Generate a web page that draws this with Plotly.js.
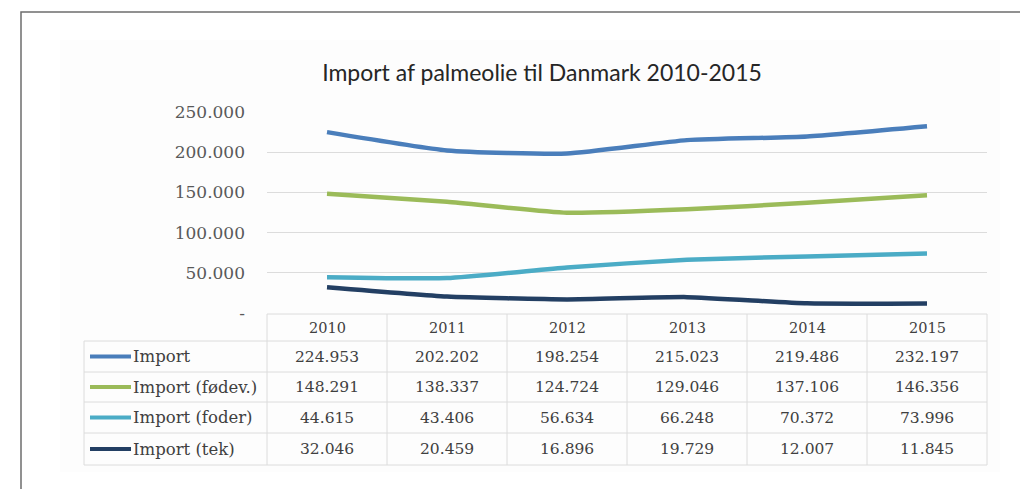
<!DOCTYPE html>
<html>
<head>
<meta charset="utf-8">
<script src="https://cdn.plot.ly/plotly-3.0.1.min.js"></script>
<style>
  html, body { margin: 0; padding: 0; background: #ffffff; }
  #chart { width: 1020px; height: 489px; }
</style>
</head>
<body>
<div id="chart"></div>
<script>
// ---- Data ----
const years = ['2010', '2011', '2012', '2013', '2014', '2015'];
const seriesNames = ['Import', 'Import (fødev.)', 'Import (foder)', 'Import (tek)'];
const importTotal = [224953, 202202, 198254, 215023, 219486, 232197];
const importFoedev = [148291, 138337, 124724, 129046, 137106, 146356];
const importFoder = [44615, 43406, 56634, 66248, 70372, 73996];
const importTek = [32046, 20459, 16896, 19729, 12007, 11845];
const tickValues = [0, 50000, 100000, 150000, 200000, 250000];
const tickLabels = ['-', '50.000', '100.000', '150.000', '200.000', '250.000'];

const seriesValues = [importTotal, importFoedev, importFoder, importTek];
const seriesColors = ['#4a7ebb', '#9bbb59', '#4bacc6', '#233f63'];

// ---- Geometry (pixels) ----
const W = 1020, H = 489;
const L = 267, R = 987, T = 112, B = 313;
const px = p => (p - L) / (R - L);
const py = p => (B - p) / (B - T);

function fmt(n) {
  const th = Math.floor(n / 1000);
  const rest = String(n % 1000).padStart(3, '0');
  return th > 0 ? th + '.' + rest : String(n);
}

const traces = seriesValues.map((vals, i) => ({
  type: 'scatter',
  mode: 'lines',
  x: years,
  y: vals,
  name: seriesNames[i],
  line: { color: seriesColors[i], width: 4.5, shape: 'spline', smoothing: 0.5 },
  hoverinfo: 'skip'
}));

const gridColor = '#dcdcdc';
const shapes = [];
const annotations = [];

// very faint chart-area background
shapes.push({ type: 'rect', xref: 'paper', yref: 'paper', layer: 'below',
  x0: px(60), x1: px(1000), y0: py(40), y1: py(472),
  fillcolor: '#fdfdfd', line: { width: 0 } });
// outer border
shapes.push({ type: 'path', xref: 'paper', yref: 'paper',
  path: `M ${px(21)} ${py(500)} L ${px(21)} ${py(12)} L ${px(1030)} ${py(12)}`,
  line: { color: '#6e6e6e', width: 1.5 } });

// table geometry
const colW = 120;
const rowTop = 314;
const headerBottom = 341;
const rowLines = [341, 372, 402, 433, 465];
const tableLeft = 84;
shapes.push({ type: 'line', xref: 'paper', yref: 'paper',
  x0: px(L), x1: px(R), y0: py(rowTop), y1: py(rowTop), line: { color: gridColor, width: 1 } });
rowLines.forEach(yy => shapes.push({ type: 'line', xref: 'paper', yref: 'paper',
  x0: px(tableLeft), x1: px(R), y0: py(yy), y1: py(yy), line: { color: gridColor, width: 1 } }));
for (let c = 0; c <= years.length; c++) {
  const xx = L + c * colW;
  shapes.push({ type: 'line', xref: 'paper', yref: 'paper',
    x0: px(xx), x1: px(xx), y0: py(rowTop), y1: py(465), line: { color: gridColor, width: 1 } });
}
shapes.push({ type: 'line', xref: 'paper', yref: 'paper',
  x0: px(tableLeft), x1: px(tableLeft), y0: py(headerBottom), y1: py(465), line: { color: gridColor, width: 1 } });

const serif = 'DejaVu Serif, Liberation Serif, serif';
const textColor = '#404040';
years.forEach((yr, c) => annotations.push({
  xref: 'paper', yref: 'paper', x: px(L + c * colW + colW / 2), y: py(328),
  text: yr, showarrow: false, xanchor: 'center', yanchor: 'middle',
  font: { family: serif, size: 14.5, color: textColor }
}));
seriesValues.forEach((vals, r) => {
  const yc = (rowLines[r] + rowLines[r + 1]) / 2;
  shapes.push({ type: 'line', xref: 'paper', yref: 'paper',
    x0: px(90), x1: px(131), y0: py(yc), y1: py(yc),
    line: { color: seriesColors[r], width: 4 } });
  annotations.push({ xref: 'paper', yref: 'paper', x: px(131), y: py(yc),
    text: seriesNames[r], showarrow: false, xanchor: 'left', yanchor: 'middle',
    font: { family: serif, size: 16.5, color: textColor } });
  vals.forEach((v, c) => annotations.push({
    xref: 'paper', yref: 'paper', x: px(L + c * colW + colW / 2), y: py(yc),
    text: fmt(v), showarrow: false, xanchor: 'center', yanchor: 'middle',
    font: { family: serif, size: 15.5, color: textColor }
  }));
});

const layout = {
  width: W, height: H,
  margin: { l: L, r: W - R, t: T, b: H - B, pad: 0 },
  paper_bgcolor: '#ffffff',
  plot_bgcolor: 'rgba(0,0,0,0)',
  showlegend: false,
  title: {
    text: 'Import af palmeolie til Danmark 2010-2015',
    x: 542 / W, xanchor: 'center', xref: 'container',
    y: 1 - 73 / H, yanchor: 'middle', yref: 'container',
    font: { family: 'Lato, Noto Sans, sans-serif', size: 23, color: '#262626' }
  },
  xaxis: {
    type: 'category', range: [-0.5, 5.5],
    showticklabels: false, showgrid: false, zeroline: false, showline: false, ticks: ''
  },
  yaxis: {
    range: [0, 250000], tickvals: tickValues, ticktext: tickLabels,
    showgrid: true, gridcolor: gridColor, gridwidth: 1, zeroline: false, showline: false,
    ticks: '', ticklabelstandoff: 21,
    tickfont: { family: serif, size: 17, color: '#595959' }
  },
  shapes: shapes,
  annotations: annotations
};

Plotly.newPlot('chart', traces, layout, { staticPlot: true, displayModeBar: false });
</script>
</body>
</html>
